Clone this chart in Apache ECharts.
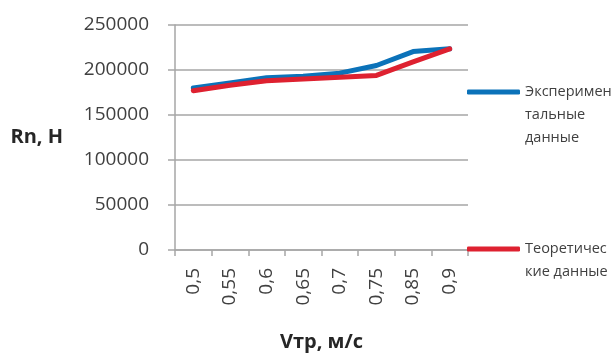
<!DOCTYPE html>
<html>
<head>
<meta charset="utf-8">
<script src="https://cdn.jsdelivr.net/npm/echarts@6/dist/echarts.min.js"></script>
<style>html,body{margin:0;padding:0;background:#fff}#c{width:612px;height:356px}</style>
</head>
<body>
<div id="c"></div>
<script>
const categories = ['0,5', '0,55', '0,6', '0,65', '0,7', '0,75', '0,85', '0,9'];
const experimental = [180000, 185500, 191500, 193000, 196500, 205000, 220500, 223500];
const theoretical = [177000, 183000, 188000, 190000, 192000, 194000, 209000, 223500];
const seriesNames = ['Эксперимен\nтальные\nданные', 'Теоретичес\nкие данные'];
const yTicks = { min: 0, max: 250000, interval: 50000 };

const FONT = 'Open Sans';
const legendText = { fontFamily: FONT, fontSize: 14.5, color: '#404040', lineHeight: 23 };
const chart = echarts.init(document.getElementById('c'), null, { renderer: 'canvas' });
chart.setOption({
  animation: false,
  backgroundColor: '#ffffff',
  grid: { left: 175, right: 144, top: 25, bottom: 106, containLabel: false, outerBoundsMode: 'none' },
  legend: [
    {
      data: [seriesNames[0]], orient: 'vertical', left: 467, top: 34.5, padding: 0,
      itemWidth: 53, itemHeight: 5, itemGap: 0, icon: 'roundRect',
      formatter: n => '\n\n' + n,
      textStyle: legendText
    },
    {
      data: [seriesNames[1]], orient: 'vertical', left: 467, top: 214.5, padding: 0,
      itemWidth: 53, itemHeight: 5, itemGap: 0, icon: 'roundRect',
      formatter: n => '\n' + n,
      textStyle: legendText
    }
  ],
  xAxis: {
    type: 'category', data: categories, boundaryGap: true,
    name: 'Vтр, м/с', nameLocation: 'middle', nameGap: 82,
    nameTextStyle: { fontFamily: FONT, fontSize: 20, fontWeight: 'bold', color: '#262626' },
    axisLine: { lineStyle: { color: '#a6a6a6', width: 1.5 } },
    axisTick: { show: true, length: 6, lineStyle: { color: '#a6a6a6', width: 1.5 } },
    axisLabel: { rotate: 90, margin: 18, fontFamily: FONT, fontSize: 19, color: '#404040' },
    splitLine: { show: false }
  },
  yAxis: {
    type: 'value', min: yTicks.min, max: yTicks.max, interval: yTicks.interval,
    name: 'Rn, H', nameLocation: 'middle', nameRotate: 0, nameGap: 112,
    nameTextStyle: { fontFamily: FONT, fontSize: 20, fontWeight: 'bold', color: '#262626' },
    axisLine: { show: true, lineStyle: { color: '#a6a6a6', width: 1.5 } },
    axisTick: { show: true, length: 7, lineStyle: { color: '#a6a6a6', width: 1.5 } },
    axisLabel: { margin: 26, fontFamily: FONT, fontSize: 19, color: '#404040', formatter: v => String(v) },
    splitLine: { show: true, lineStyle: { color: '#a6a6a6', width: 1.5 } }
  },
  series: [
    {
      name: seriesNames[0], type: 'line', data: experimental, symbol: 'none',
      lineStyle: { width: 5, color: '#0b72b9', cap: 'round', join: 'round' }, itemStyle: { color: '#0b72b9' }
    },
    {
      name: seriesNames[1], type: 'line', data: theoretical, symbol: 'none',
      lineStyle: { width: 5, color: '#de2130', cap: 'round', join: 'round' }, itemStyle: { color: '#de2130' }
    }
  ]
});
</script>
</body>
</html>
